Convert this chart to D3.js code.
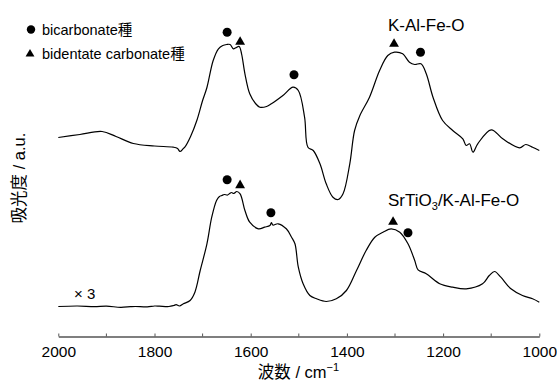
<!DOCTYPE html>
<html>
<head>
<meta charset="utf-8">
<script src="https://cdn.jsdelivr.net/npm/d3@7"></script>
<style>
  body { margin: 0; background: #fff; }
  svg text { font-family: "Liberation Sans", Arial, "Noto Sans CJK JP", sans-serif; fill: #000; }
  .axis path, .axis line { stroke: #555; }
  .axis path { stroke-width: 1.4; }
  .spectrum { fill: none; stroke: #000; stroke-width: 1.2; }
</style>
</head>
<body>
<script>
// wavenumbers (cm-1) and absorbance (a.u., offset traces)
var wnTop = [2000, 1955, 1909, 1880, 1844, 1800, 1761, 1752, 1747, 1740, 1737, 1725, 1712, 1700, 1691, 1678,
  1667, 1658, 1650, 1643, 1636, 1631, 1624, 1619, 1612, 1602, 1590, 1581, 1567, 1557, 1533, 1512,
  1501, 1488, 1481, 1470, 1456, 1443, 1429, 1418, 1408, 1394, 1384, 1373, 1353, 1332, 1315, 1301,
  1284, 1270, 1259, 1246, 1235, 1221, 1201, 1180, 1159, 1152, 1145, 1138, 1128, 1100, 1076, 1041,
  1028, 1014, 1000];
var absTop = [1.99, 2.02, 2.05, 2.00, 1.93, 1.905, 1.893, 1.88, 1.85, 1.88, 1.893, 2.00, 2.16, 2.36, 2.49, 2.76,
  2.877, 2.91, 2.92, 2.92, 2.877, 2.887, 2.90, 2.827, 2.627, 2.427, 2.33, 2.293, 2.30, 2.327, 2.41, 2.493,
  2.46, 2.193, 1.893, 1.86, 1.727, 1.527, 1.393, 1.37, 1.427, 1.727, 2.06, 2.21, 2.393, 2.66, 2.81, 2.843,
  2.827, 2.743, 2.72, 2.727, 2.627, 2.393, 2.16, 2.06, 1.977, 1.91, 1.927, 1.843, 1.927, 2.067, 1.977, 1.887,
  1.92, 1.893, 1.86];

var wnBottom = [2000, 1960, 1925, 1900, 1870, 1850, 1840, 1815, 1800, 1790, 1770, 1760, 1755, 1748, 1740, 1726,
  1716, 1705, 1691, 1681, 1671, 1665, 1660, 1655, 1648, 1643, 1640, 1635, 1629, 1622, 1612, 1602,
  1584, 1571, 1560, 1557, 1554, 1543, 1526, 1515, 1508, 1501, 1491, 1477, 1463, 1443, 1422, 1401,
  1380, 1360, 1342, 1325, 1308, 1290, 1273, 1259, 1252, 1235, 1207, 1180, 1152, 1118, 1104, 1093,
  1080, 1059, 1035, 1014, 1000];
var absBottom = [0.30, 0.305, 0.298, 0.303, 0.292, 0.298, 0.30, 0.296, 0.305, 0.304, 0.30, 0.31, 0.318, 0.305, 0.327, 0.36,
  0.443, 0.66, 0.927, 1.193, 1.36, 1.40, 1.41, 1.42, 1.415, 1.433, 1.44, 1.43, 1.45, 1.427, 1.26, 1.143,
  1.077, 1.093, 1.11, 1.14, 1.115, 1.127, 1.077, 0.993, 0.927, 0.693, 0.527, 0.41, 0.377, 0.35, 0.377, 0.46,
  0.66, 0.86, 0.993, 1.043, 1.077, 1.043, 0.927, 0.76, 0.667, 0.627, 0.527, 0.493, 0.477, 0.527, 0.61, 0.65,
  0.593, 0.477, 0.41, 0.377, 0.343];

// peak markers: wavenumber, height, kind
var markWn = [1649, 1622, 1510, 1302, 1247, 1649, 1622, 1558, 1304, 1273];
var markAbs = [3.043, 2.953, 2.617, 2.933, 2.843, 1.567, 1.52, 1.237, 1.153, 1.037];
var markKind = ["bicarb", "bident", "bicarb", "bident", "bicarb", "bicarb", "bident", "bicarb", "bident", "bicarb"];

var tickLabels = [2000, 1800, 1600, 1400, 1200, 1000];
var minorTicks = [1900, 1700, 1500, 1300, 1100];
var legendNames = ["bicarbonate種", "bidentate carbonate種"];

var w = 557, h = 381;
var svg = d3.select("body").append("svg")
    .attr("width", w)
    .attr("height", h);

var x = d3.scaleLinear().domain([2000, 1000]).range([58.3, 539.3]);
var y = d3.scaleLinear().domain([0, 3.2]).range([336.5, 16.5]);

// axis
var axis = d3.axisBottom(x).tickValues(tickLabels).tickSize(-3).tickSizeOuter(0)
    .tickFormat(d3.format("d")).tickPadding(9);
var ax = svg.append("g")
    .attr("class", "axis")
    .attr("transform", "translate(0," + y(0) + ")")
    .call(axis);
ax.selectAll("text").attr("font-size", 15.5).style("font-family", null);

svg.append("g").attr("class", "axis")
    .selectAll("line").data(minorTicks).enter().append("line")
    .attr("x1", function(d) { return x(d); })
    .attr("x2", function(d) { return x(d); })
    .attr("y1", y(0))
    .attr("y2", y(0) - 3);

// spectra
var line = d3.line()
    .x(function(d) { return x(d[0]); })
    .y(function(d) { return y(d[1]); })
    .curve(d3.curveCatmullRom.alpha(0.5));

svg.append("path").attr("class", "spectrum")
    .attr("d", line(d3.zip(wnTop, absTop)));
svg.append("path").attr("class", "spectrum")
    .attr("d", line(d3.zip(wnBottom, absBottom)));

// markers
var tri = d3.symbol().type(d3.symbolTriangle).size(42);
markWn.forEach(function(wn, i) {
    var mx = x(wn), my = y(markAbs[i]);
    if (markKind[i] === "bicarb") {
        svg.append("circle").attr("cx", mx).attr("cy", my).attr("r", 4.5).attr("fill", "#000");
    } else {
        svg.append("path").attr("d", tri).attr("fill", "#000")
            .attr("transform", "translate(" + mx + "," + (my + 0.8) + ")");
    }
});

// legend
svg.append("circle").attr("cx", 31).attr("cy", 29.5).attr("r", 4.2).attr("fill", "#000");
svg.append("path").attr("d", d3.symbol().type(d3.symbolTriangle).size(34)).attr("fill", "#000")
    .attr("transform", "translate(30,54)");
svg.append("text").attr("x", 42).attr("y", 34.5).attr("font-size", 14.5).text(legendNames[0]);
svg.append("text").attr("x", 42).attr("y", 59).attr("font-size", 14.5).text(legendNames[1]);

// sample labels
svg.append("text").attr("x", 388).attr("y", 31).attr("font-size", 17).text("K-Al-Fe-O");
var lab = svg.append("text").attr("x", 388).attr("y", 205.5).attr("font-size", 17);
lab.append("tspan").text("SrTiO");
lab.append("tspan").attr("font-size", 11).attr("dy", 4).text("3");
lab.append("tspan").attr("dy", -4).text("/K-Al-Fe-O");

svg.append("text").attr("x", 74).attr("y", 298.5).attr("font-size", 15).text("× 3");

// axis titles
var xt = svg.append("text").attr("x", 298.5).attr("y", 377.5).attr("font-size", 16.5)
    .attr("text-anchor", "middle");
xt.append("tspan").text("波数 / cm");
xt.append("tspan").attr("font-size", 11).attr("dy", -6.5).text("−1");

svg.append("text")
    .attr("transform", "translate(24.5,178) rotate(-90)")
    .attr("text-anchor", "middle")
    .attr("font-size", 16.5)
    .text("吸光度 / a.u.");
</script>
</body>
</html>
